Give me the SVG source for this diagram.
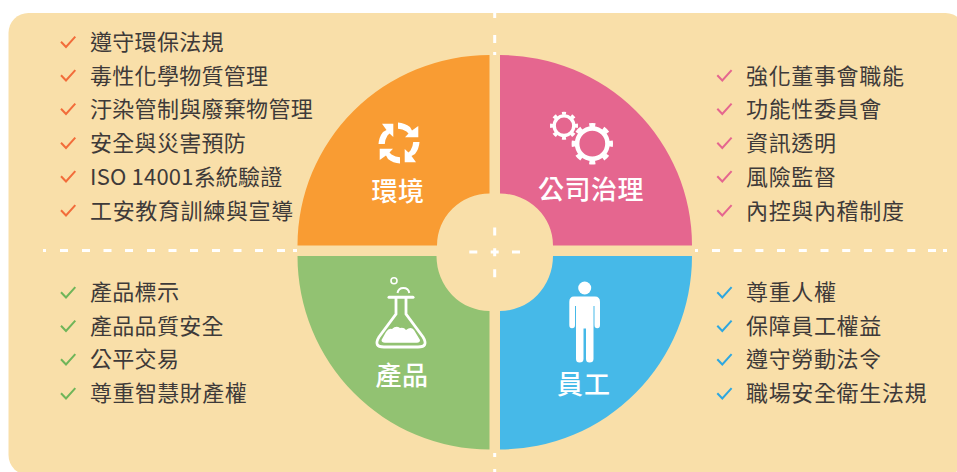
<svg xmlns="http://www.w3.org/2000/svg" xmlns:xlink="http://www.w3.org/1999/xlink" width="957" height="472" viewBox="0 0 957 472">
<style>
text{font-family:"Noto Sans CJK TC","Noto Sans CJK SC","Noto Sans",sans-serif}
.li{font-size:22px;fill:#3e3a39;letter-spacing:.3px}
.r{letter-spacing:.65px}
.lb{font-size:26px;font-weight:500;fill:#fff;text-anchor:middle;letter-spacing:.5px}
.ck{fill:none;stroke-width:2}
.dash{fill:none;stroke:#fff;stroke-width:3}
.w{fill:#fff}
.ws{fill:none;stroke:#fff}
</style>
<defs>
<path id="check" d="M61 41.700L66 47L75.300 36.700"/>
<path id="arrow" class="w" d="M398 122.500Q405 123 410 127L412 130.500L418.300 126V137.300H405L408.500 133.500L406.500 131.500Q402.500 129 398 128.800Z"/>
</defs>
<rect x="8.500" y="13" width="957" height="462" rx="20" fill="#f9dfa9"/>
<g id="guides">
<path class="dash" d="M43 250.500h3M60 250.500h8M82 250.500h8M103.500 250.500h8M125 250.500h8M147 250.500h8M168.500 250.500h8M190 250.500h8M212 250.500h8M233.500 250.500h8M255 250.500h8M277 250.500h8M293 250.500h4"/>
<path class="dash" d="M695 250.500h3M712 250.500h8M733.700 250.500h8M755.400 250.500h8M777 250.500h8M798.800 250.500h8M820.500 250.500h8M842.200 250.500h8M863.900 250.500h8M885.600 250.500h8M907.300 250.500h8M928 250.500h8M943 250.500h4"/>
<path class="dash" d="M469.300 252h8M490.700 252h8M512 252h8M494.700 248.300v8M494.700 227.500v8M494.700 269.300v8"/>
<path class="dash" d="M494.700 13v5M494.700 35v8M494.700 52v3M494.700 453v4M494.700 469v3"/>
</g>
<g id="env">
<path fill="#f99c33" d="M297.500 245.500A192 190.500 0 0 1 489.500 55V193.500A52.500 52 0 0 0 437 245.500Z"/>
<g id="env-icon">
<use xlink:href="#arrow" href="#arrow"/>
<use xlink:href="#arrow" href="#arrow" transform="rotate(90 399 143)"/>
<use xlink:href="#arrow" href="#arrow" transform="rotate(180 399 143)"/>
<use xlink:href="#arrow" href="#arrow" transform="rotate(270 399 143)"/>
</g>
<text class="lb" x="398" y="200.500">環境</text>
<g class="ck" stroke="#f26c3a">
<use href="#check"/><use href="#check" y="33.500"/><use href="#check" y="67"/><use href="#check" y="101"/><use href="#check" y="134.500"/><use href="#check" y="168.500"/>
</g>
<text class="li" x="90" y="50.300">遵守環保法規</text>
<text class="li" x="90" y="84">毒性化學物質管理</text>
<text class="li" x="90" y="117.300">汙染管制與廢棄物管理</text>
<text class="li" x="90" y="151.300">安全與災害預防</text>
<text class="li" x="90" y="185" style="letter-spacing:.2px">ISO 14001系統驗證</text>
<text class="li r" x="90" y="218.700">工安教育訓練與宣導</text>
</g>
<g id="gov">
<path fill="#e5668f" d="M500 55A192 190.500 0 0 1 692 245.500H553A53 52 0 0 0 500 193.500Z"/>
<g id="gov-icon" class="ws">
<circle cx="564" cy="125.700" r="9.800" stroke-width="3.400"/>
<circle cx="564" cy="125.700" r="12.500" stroke-width="3" pathLength="8" stroke-dasharray=".42 .58" stroke-dashoffset=".21"/>
<circle cx="592.300" cy="143.700" r="15.200" stroke-width="4.600"/>
<circle cx="592.300" cy="143.700" r="18.700" stroke-width="4" pathLength="8" stroke-dasharray=".42 .58" stroke-dashoffset=".21"/>
</g>
<text class="lb" x="591" y="199">公司治理</text>
<g class="ck" stroke="#e5668f">
<use href="#check" x="656.300" y="33.500"/><use href="#check" x="656.300" y="67"/><use href="#check" x="656.300" y="101"/><use href="#check" x="656.300" y="134.500"/><use href="#check" x="656.300" y="168.500"/>
</g>
<text class="li r" x="746" y="84">強化董事會職能</text>
<text class="li r" x="746" y="117.300">功能性委員會</text>
<text class="li r" x="746" y="151.300">資訊透明</text>
<text class="li r" x="746" y="185">風險監督</text>
<text class="li r" x="746" y="218.700">內控與內稽制度</text>
</g>
<g id="prod">
<path fill="#92c272" d="M297.500 256H436.500A53 55 0 0 0 489.500 311V449.500A192 193.500 0 0 1 297.500 256Z"/>
<g id="prod-icon">
<circle class="ws" cx="394" cy="280.700" r="3" stroke-width="1.600"/>
<path class="ws" stroke-width="2" d="M397.500 293A6 6 0 0 1 409.300 293"/>
<path class="ws" stroke-width="3" stroke-linecap="round" d="M389 297.300H413"/>
<path class="ws" stroke-width="2.800" d="M396 298V314L379 337Q373 347 384 347H418Q429 347 423 337L406 314V298"/>
<path class="w" d="M381.500 340L386 332Q389 327.500 392 329Q396 325 400 328Q404 327 406 330Q411 326 414 330L420 340Q420 342.700 417 342.700H385Q381.500 342.700 381.500 340Z"/>
</g>
<text class="lb" x="402" y="385">產品</text>
<g class="ck" stroke="#6fb559">
<use href="#check" y="250.500"/><use href="#check" y="284"/><use href="#check" y="317.500"/><use href="#check" y="351.500"/>
</g>
<text class="li" x="90" y="300.300">產品標示</text>
<text class="li" x="90" y="334">產品品質安全</text>
<text class="li" x="90" y="367.300">公平交易</text>
<text class="li" x="90" y="401.300" style="letter-spacing:.45px">尊重智慧財產權</text>
</g>
<g id="emp">
<path fill="#46b9e8" d="M500 311A53 55 0 0 0 553 256H692A192 193.500 0 0 1 500 449.500Z"/>
<g id="emp-icon" class="w">
<circle cx="584.700" cy="288" r="6.500"/>
<path d="M574 296.500H595Q600 296.500 600 302V325Q600 328.300 597.200 328.300Q594.500 328.300 594.500 325V306H593.500V359Q593.500 362.500 589.500 362.500Q586 362.500 586 359V328.500H583.500V359Q583.500 362.500 579.500 362.500Q576 362.500 576 359V306H575V325Q575 328.300 572 328.300Q569.300 328.300 569.300 325V302Q569.300 296.500 574 296.500Z"/>
</g>
<text class="lb" x="584" y="394" style="letter-spacing:1px">員工</text>
<g class="ck" stroke="#2ea7e0">
<use href="#check" x="656.300" y="250.500"/><use href="#check" x="656.300" y="284"/><use href="#check" x="656.300" y="317.500"/><use href="#check" x="656.300" y="351.500"/>
</g>
<text class="li r" x="746" y="300.300">尊重人權</text>
<text class="li r" x="746" y="334">保障員工權益</text>
<text class="li r" x="746" y="367.300">遵守勞動法令</text>
<text class="li r" x="746" y="401.300">職場安全衛生法規</text>
</g>
</svg>
